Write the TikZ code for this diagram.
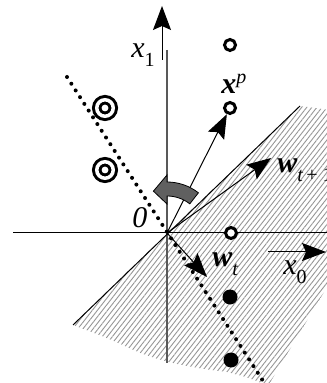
\documentclass[tikz,border=0pt]{standalone}
\usepackage{fontspec}
\setmainfont{Liberation Serif}
\usetikzlibrary{arrows.meta,patterns.meta}
\definecolor{hatch}{RGB}{150,150,150}
\definecolor{turn}{RGB}{96,96,96}
\newcommand{\lsub}[1]{\raisebox{-4.5pt}{\fontsize{10}{12}\selectfont #1}}
\newcommand{\lsup}[1]{\raisebox{5pt}{\fontsize{10}{12}\selectfont #1}}

\begin{document}
\begin{tikzpicture}[x=0.5pt,y=-0.5pt,
    vec/.style={-{Stealth[length=12pt,width=9pt,inset=2pt]}, line width=0.5pt},
    lbl/.style={anchor=base west, inner sep=0pt, font=\fontsize{15}{17}\selectfont},
    opendot/.style={draw, circle, line width=1.5pt, fill=white, minimum size=5.5pt, inner sep=0pt},
    fulldot/.style={fill, circle, minimum size=7.5pt, inner sep=0pt},
    target/.style={draw, circle, double, line width=1.5pt, double distance=1.75pt,
                   minimum size=8.25pt, inner sep=0pt}]

  \useasboundingbox (0,0) rectangle (326,383);

  \coordinate (O) at (167,233);

  % half plane w_t . x > 0
  \fill[pattern={Lines[angle=52,distance=2pt,line width=0.45pt]}, pattern color=hatch]
    (O) -- (300,106) -- (330,110) -- (330,282) -- (268,386)
    .. controls (250,378) .. (227,372)
    .. controls (195,368) and (160,363) .. (127,347)
    .. controls (105,337) .. (73,325) -- cycle;

  % axes
  \coordinate (ytop) at (167,50);
  \coordinate (ybot) at (167,363);
  \coordinate (xleft) at (13,233);
  \coordinate (xright) at (330,233);
  \draw[line width=0.6pt, black!65] (ytop) -- (ybot);
  \draw[line width=0.5pt] (xleft) -- (xright);

  \coordinate (x1a) at (162,60);
  \coordinate (x1b) at (162,6);
  \draw[vec] (x1a) -- (x1b);
  \coordinate (x0a) at (268,252);
  \coordinate (x0b) at (326,252);
  \draw[vec] (x0a) -- (x0b);

  % boundary of the hatched side
  \coordinate (b1) at (300,106);
  \coordinate (b2) at (73,325);
  \draw[line width=0.5pt] (b2) -- (b1);

  % old boundary (dotted)
  \coordinate (d1) at (67,77);
  \coordinate (d2) at (265,384);
  \draw[line width=2pt, line cap=round, dash pattern=on 0pt off 4pt] (d1) -- (d2);

  % samples
  \node[opendot] (p1) at (230,45) {};
  \node[opendot] (xp) at (230,108) {};
  \node[opendot] (p3) at (231,233) {};
  \node[fulldot] (n1) at (230,297) {};
  \node[fulldot] (n2) at (231,360) {};
  \node[target] (t1) at (105,108) {};
  \node[target] (t2) at (105,170) {};

  % weight vectors
  \coordinate (wt1) at (271,158);
  \coordinate (wt) at (207,277);
  \draw[vec] (O) -- (xp);
  \draw[vec] (O) -- (wt1);
  \draw[vec] (O) -- (wt);

  % rotation of w
  \begin{scope}[shift={(O)}, yscale=-1]
    \filldraw[fill=turn, draw=black, line width=0.4pt]
      (52:51) arc[start angle=52, end angle=90, radius=51] -- (90:58) -- (108:44)
      -- (90:29) -- (90:37) arc[start angle=90, end angle=52, radius=37] -- cycle;
  \end{scope}

  % labels
  \node[lbl] (lx1) at (131,58) {\itshape x\upshape\lsub{1}};
  \node[lbl] (lO) at (132,228) {\itshape 0};
  \node[lbl] (lxp) at (221,94) {\bfseries\itshape x\mdseries\lsup{p}};
  \node[lbl] (lwt1) at (277,173) {\bfseries\itshape w\mdseries\lsub{t\upshape\,+ 1}};
  \node[lbl] (lwt) at (212,267) {\bfseries\itshape w\mdseries\lsub{t}};
  \node[lbl] (lx0) at (283,274) {\itshape x\upshape\lsub{0}};
\end{tikzpicture}
\end{document}
